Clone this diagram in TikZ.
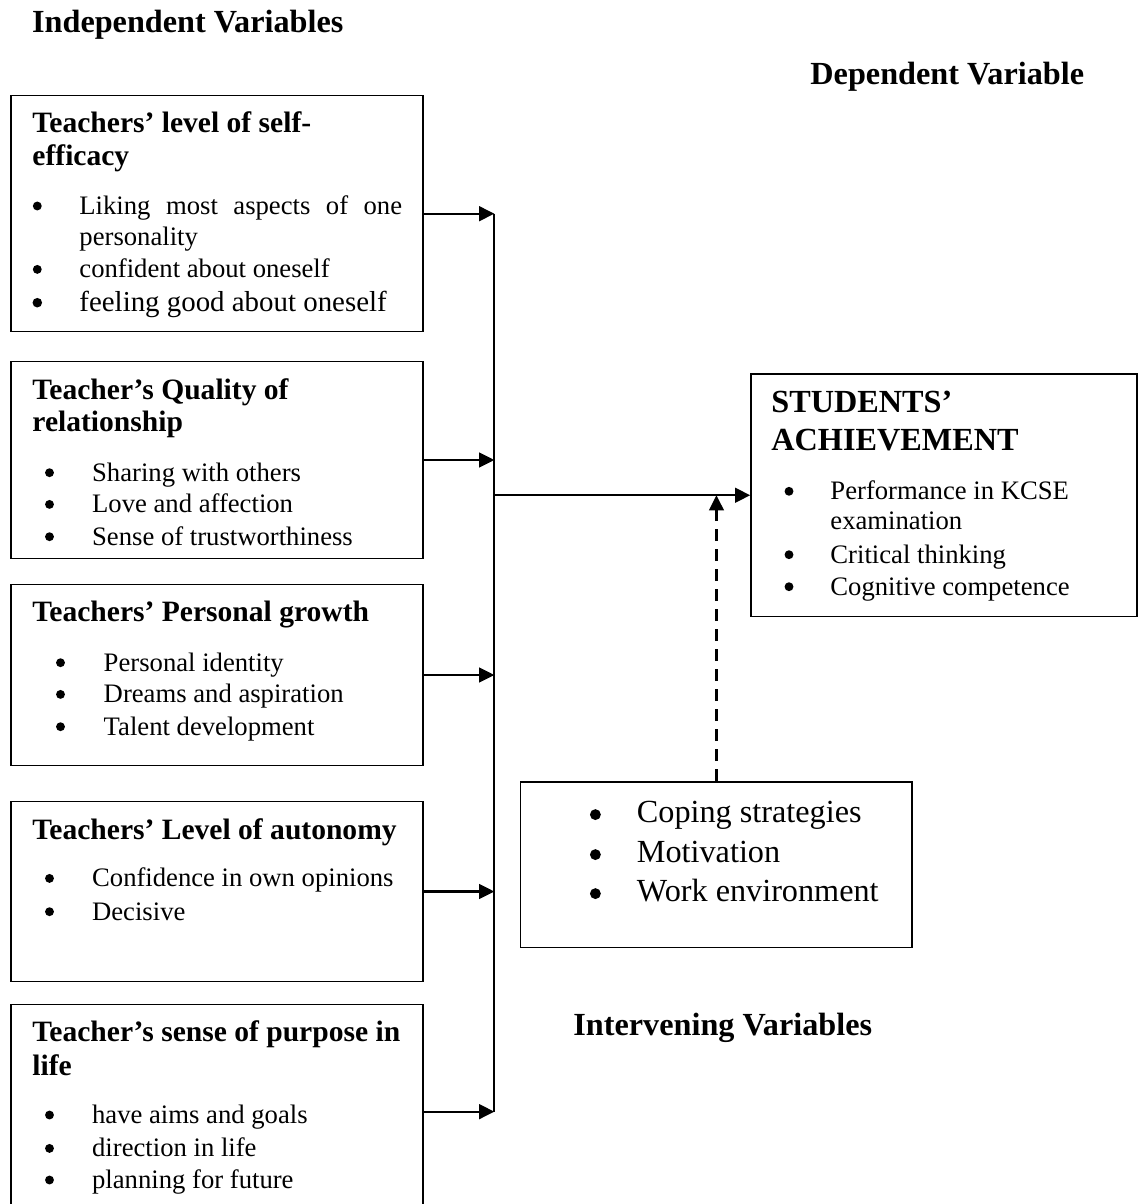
\documentclass[tikz,border=0pt]{standalone}
\usepackage{fontspec}
\setmainfont{Liberation Serif}
\usepackage{tikz}
\usetikzlibrary{arrows.meta}
\usetikzlibrary{fit}
\tikzset{
    box/.style = {rectangle, draw=black, line width=0.7pt, inner sep=0pt},
    txt/.style = {anchor=base west, inner sep=0pt, align=left},
    hdr/.style = {txt, font=\fontsize{14.5}{17}\selectfont\bfseries},
    ttl/.style = {txt, font=\fontsize{13.3}{15}\selectfont\bfseries},
    itm/.style = {txt, font=\fontsize{12}{14}\selectfont},
    dot/.style = {circle, fill=black, inner sep=0pt, minimum size=4pt},
}

\begin{document}
\begin{tikzpicture}[
	x=0.45pt,
	y=-0.45pt
]
\tikzset{
    arr/.style = {line width=1pt, -{Triangle[length=6.8pt,width=6.6pt]}},
    darr/.style = {arr, dash pattern=on 5.5pt off 3.5pt},
    spn/.style = {line width=0.9pt},
    big/.style = {itm, font=\fontsize{14.5}{17}\selectfont},
    bigdot/.style = {dot, minimum size=4.9pt},
}
\clip (0,0) rectangle (1138,1204);
%
\node[hdr] at (31.7,33) (ind) {Independent Variables};
\node[hdr] at (810,84.4) (dep) {Dependent Variable};
\node[hdr] at (573,1035.7) (int) {Intervening Variables};
%
\node[box, fit={(11,95.7) (423,331.7)}] (b1) {};
\node[box, fit={(11,361.7) (423,558.3)}] (b2) {};
\node[box, fit={(11,584.3) (423,765.7)}] (b3) {};
\node[box, fit={(11,801.7) (423,981.3)}] (b4) {};
\node[box, fit={(11,1004.3) (423,1219)}] (b5) {};
\node[box, fit={(751,374) (1137,616.5)}] (dv) {};
\node[box, fit={(520.7,782) (912.2,947.7)}] (iv) {};
%
\node[ttl] at (32,132.7) (t1a) {Teachers’ level of self-};
\node[ttl] at (32,165.7) (t1b) {efficacy};
\node[itm] at (79,214.3) (i1a) {\makebox[145.2pt][s]{Liking most aspects of one}};
\node[itm] at (79,245.7) (i1b) {personality};
\node[itm] at (79,277.7) (i1c) {confident about oneself};
\node[itm, font=\fontsize{13}{15}\selectfont] at (79,311.7) (i1d) {feeling good about oneself};
\node[dot] at (37.3,206) (p1a) {};
\node[dot] at (37.3,269.4) (p1c) {};
\node[dot, minimum size=4.3pt] at (37.3,302.7) (p1d) {};
%
\node[ttl] at (32,399.3) (t2a) {Teacher’s Quality of};
\node[ttl] at (32,431.7) (t2b) {relationship};
\node[itm] at (91.7,481) (i2a) {Sharing with others};
\node[itm] at (91.7,512.7) (i2b) {Love and affection};
\node[itm] at (91.7,545) (i2c) {Sense of trustworthiness};
\node[dot] at (49.5,472.7) (p2a) {};
\node[dot] at (49.5,504.4) (p2b) {};
\node[dot] at (49.5,536.7) (p2c) {};
%
\node[ttl] at (32,621.7) (t3) {Teachers’ Personal growth};
\node[itm] at (103.3,671) (i3a) {Personal identity};
\node[itm] at (103.3,702.7) (i3b) {Dreams and aspiration};
\node[itm] at (103.3,735) (i3c) {Talent development};
\node[dot] at (60.5,662.7) (p3a) {};
\node[dot] at (60.5,694.4) (p3b) {};
\node[dot] at (60.5,726.7) (p3c) {};
%
\node[ttl] at (32,839.3) (t4) {Teachers’ Level of autonomy};
\node[itm] at (91.7,886.7) (i4a) {Confidence in own opinions};
\node[itm] at (91.7,920) (i4b) {Decisive};
\node[dot] at (49.5,878.4) (p4a) {};
\node[dot] at (49.5,911.7) (p4b) {};
%
\node[ttl] at (32,1041.7) (t5a) {Teacher’s sense of purpose in};
\node[ttl] at (32,1075) (t5b) {life};
\node[itm] at (91.7,1123.3) (i5a) {have aims and goals};
\node[itm] at (91.7,1156.7) (i5b) {direction in life};
\node[itm] at (91.7,1188.3) (i5c) {planning for future};
\node[dot] at (49.5,1115) (p5a) {};
\node[dot] at (49.5,1148.4) (p5b) {};
\node[dot] at (49.5,1180) (p5c) {};
%
\node[hdr] at (771,412.9) (s1) {STUDENTS’};
\node[hdr] at (771,450) (s2) {ACHIEVEMENT};
\node[itm] at (830,499.6) (d1) {Performance in KCSE};
\node[itm] at (830,529.9) (d2) {examination};
\node[itm] at (830,563) (d3) {Critical thinking};
\node[itm] at (830,595) (d4) {Cognitive competence};
\node[dot] at (789,491.3) (q1) {};
\node[dot] at (789,554.7) (q3) {};
\node[dot] at (789,586.7) (q4) {};
%
\node[big] at (636.5,822.7) (v1) {Coping strategies};
\node[big] at (636.5,862.7) (v2) {Motivation};
\node[big] at (636.5,901.7) (v3) {Work environment};
\node[bigdot] at (595.4,814.6) (w1) {};
\node[bigdot] at (595.4,854.6) (w2) {};
\node[bigdot] at (595.4,893.6) (w3) {};
%
\coordinate (spine) at (494.3,0);
\draw[spn] (b1.east -| spine) -- (b5.east -| spine);
\draw[arr] (b1.east) -- (b1.east -| spine);
\draw[arr] (b2.east) -- (b2.east -| spine);
\draw[arr] (b3.east) -- (b3.east -| spine);
\draw[arr] (b4.east) -- (b4.east -| spine);
\draw[arr] (b5.east) -- (b5.east -| spine);
\draw[arr] (dv.west -| spine) -- (dv.west);
\draw[darr] (iv.north) -- (iv.north |- dv.west);
\end{tikzpicture}
\end{document}
